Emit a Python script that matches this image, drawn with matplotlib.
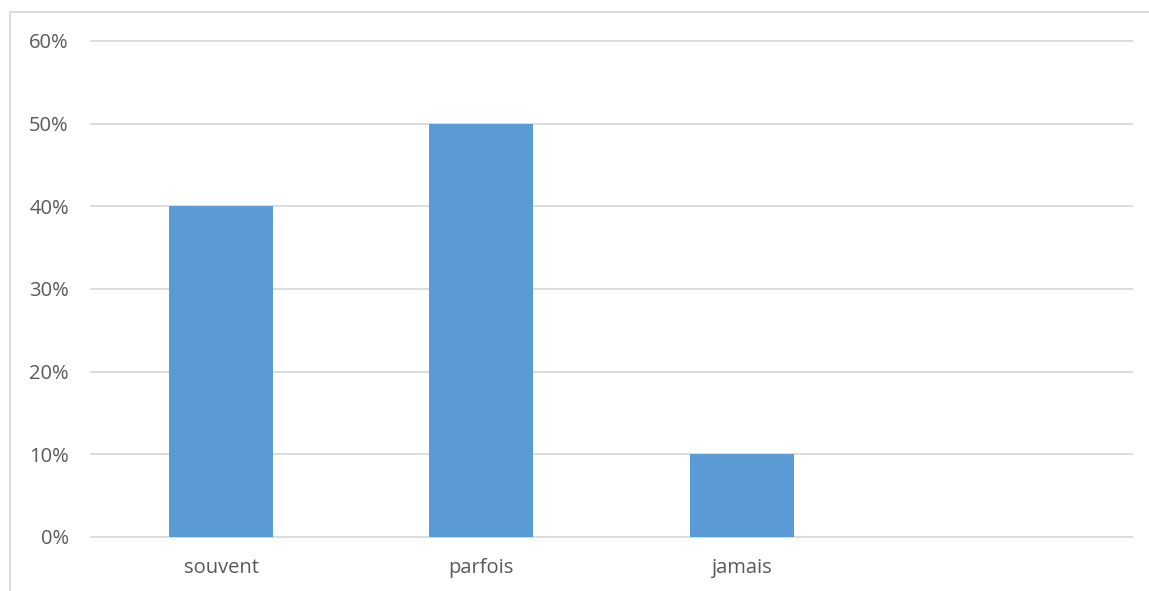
import matplotlib
matplotlib.use("Agg")
import matplotlib.pyplot as plt
from matplotlib.patches import Rectangle

# -----------------------------
# Data
# -----------------------------
categories = ["souvent", "parfois", "jamais", ""]
values = [40, 50, 10, 0]
y_ticks = [0, 10, 20, 30, 40, 50, 60]

BAR_COLOR = "#5B9BD5"
GRID_COLOR = "#D9D9D9"
TEXT_COLOR = "#595959"

plt.rcParams["font.family"] = ["Open Sans", "DejaVu Sans"]

W, H = 1149, 591
fig = plt.figure(figsize=(W / 100, H / 100), dpi=100)
ax = fig.add_axes([91 / W, (H - 537) / H, (1132 - 91) / W, (537 - 41) / H])

x = list(range(len(categories)))
ax.bar(x, values, width=0.4, color=BAR_COLOR, zorder=3)

ax.set_xlim(-0.5, len(categories) - 0.5)
ax.set_ylim(0, 60)
ax.set_yticks(y_ticks)
ax.set_yticklabels([f"{v}%" for v in y_ticks])
ax.set_xticks(x)
ax.set_xticklabels(categories)

ax.grid(axis="y", color=GRID_COLOR, linewidth=1.3, zorder=0)
for gl in ax.get_ygridlines():
    gl.set_clip_on(False)
for s in ax.spines.values():
    s.set_visible(False)
ax.tick_params(axis="both", length=0, labelsize=14.5, colors=TEXT_COLOR)
ax.tick_params(axis="y", pad=16)
ax.tick_params(axis="x", pad=15)

# chart frame
fig.patches.append(Rectangle((9.5 / W, -0.1), 1.2, (H - 11.5) / H + 0.1,
                             transform=fig.transFigure, fill=False,
                             edgecolor=GRID_COLOR, linewidth=1.3))

fig.savefig("out.png", dpi=100)
